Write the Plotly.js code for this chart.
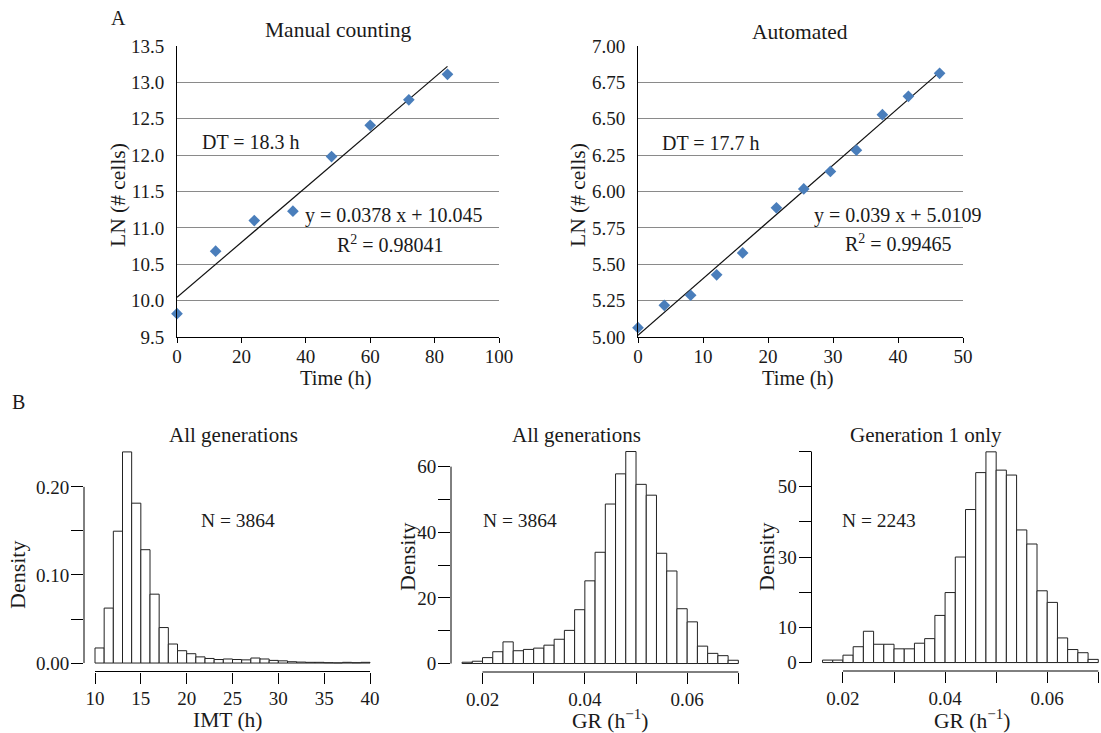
<!DOCTYPE html>
<html>
<head>
<meta charset="utf-8">
<script src="https://cdn.plot.ly/plotly-3.0.1.min.js"></script>
<style>
  html, body { margin: 0; padding: 0; background: #fff; }
  #fig { width: 1101px; height: 733px; }
</style>
</head>
<body>
<div id="fig"></div>
<script>
// ---- Panel A: growth curves (log of cell number over time) ----
const manualTime = [0, 12, 24, 36, 48, 60, 72, 84];
const manualLn = [9.82, 10.68, 11.10, 11.23, 11.98, 12.41, 12.76, 13.11];
const manualSlope = 0.0378;
const manualIntercept = 10.045;
const manualR2 = '0.98041';
const manualDT = '18.3';

const autoTime = [0, 4.05, 8.1, 12.1, 16.1, 21.3, 25.5, 29.6, 33.6, 37.6, 41.6, 46.4];
const autoLn = [5.064, 5.218, 5.287, 5.427, 5.578, 5.888, 6.018, 6.138, 6.284, 6.528, 6.654, 6.812];
const autoSlope = 0.039;
const autoIntercept = 5.0109;
const autoR2 = '0.99465';
const autoDT = '17.7';

// ---- Panel B: histograms (density per bin) ----
const imtBinStart = [10, 11, 12, 13, 14, 15, 16, 17, 18, 19, 20, 21, 22, 23, 24,
                     25, 26, 27, 28, 29, 30, 31, 32, 33, 34, 35, 36, 37, 38, 39];
const imtBinWidth = 1;
const imtDensity = [0.0171, 0.0624, 0.1497, 0.2397, 0.1815, 0.1287, 0.0782, 0.0403,
                    0.0216, 0.0140, 0.0106, 0.0070, 0.0052, 0.0040, 0.0046, 0.0040,
                    0.0036, 0.0057, 0.0046, 0.0030, 0.0025, 0.0015, 0.0011, 0.0008,
                    0.0008, 0.0004, 0.0002, 0.0008, 0.0004, 0.0008];
const imtN = 3864;

const grBinStart = [0.016, 0.018, 0.020, 0.022, 0.024, 0.026, 0.028, 0.030, 0.032,
                    0.034, 0.036, 0.038, 0.040, 0.042, 0.044, 0.046, 0.048, 0.050,
                    0.052, 0.054, 0.056, 0.058, 0.060, 0.062, 0.064, 0.066, 0.068];
const grBinWidth = 0.002;
const grAllDensity = [0.4, 0.7, 1.8, 3.6, 6.6, 3.9, 4.3, 4.7, 5.6, 7.4, 10.1, 16.4, 25.2,
                      33.9, 48.6, 57.8, 64.6, 54.6, 51.3, 33.6, 28.2, 16.7, 12.7, 5.3,
                      3.1, 2.4, 1.0];
const grAllN = 3864;
const grGen1Density = [0.7, 0.7, 2.1, 4.5, 8.9, 5.2, 5.2, 3.9, 3.9, 5.5, 6.8, 13.4, 19.9,
                       30.0, 43.5, 54.0, 59.9, 54.7, 53.3, 37.7, 33.7, 20.4, 17.1, 7.0,
                       3.7, 2.8, 0.9];
const grGen1N = 2243;

// tick sets for the histogram axes (labelled ticks and unlabelled in-between ticks)
const imtXTicks = [10, 15, 20, 25, 30, 35, 40];
const imtYTicks = [0, 0.10, 0.20];
const imtYMinor = [0.05, 0.15];
const grXTicks = [0.02, 0.04, 0.06];
const grXMinor = [0.03, 0.05, 0.07];
const grAllYTicks = [0, 20, 40, 60];
const grAllYMinor = [10, 30, 50];
const grGen1YTicks = [0, 10, 30, 50];
const grGen1YMinor = [20, 40, 60];

// ---- styling ----
const FONT = '"Liberation Serif", "Times New Roman", Times, serif';
const INK = '#1a1a1a';
const W = 1101, H = 733;
const fx = p => p / W;
const fy = p => 1 - p / H;

function fitLine(times, slope, intercept) {
  const x0 = Math.min(...times), x1 = Math.max(...times);
  return { x: [x0, x1], y: [slope * x0 + intercept, slope * x1 + intercept] };
}

const manualFit = fitLine(manualTime, manualSlope, manualIntercept);
const autoFit = fitLine(autoTime, autoSlope, autoIntercept);

const diamond = { symbol: 'diamond', size: 9, color: '#4a7ebb' };
const barStyle = { color: '#ffffff', line: { color: '#222', width: 1 } };

const traces = [
  { type: 'scatter', mode: 'lines', x: manualFit.x, y: manualFit.y, xaxis: 'x', yaxis: 'y',
    line: { color: '#111', width: 1.2 }, hoverinfo: 'skip' },
  { type: 'scatter', mode: 'markers', x: manualTime, y: manualLn, xaxis: 'x', yaxis: 'y',
    marker: diamond, cliponaxis: false },
  { type: 'scatter', mode: 'lines', x: autoFit.x, y: autoFit.y, xaxis: 'x2', yaxis: 'y2',
    line: { color: '#111', width: 1.2 }, hoverinfo: 'skip' },
  { type: 'scatter', mode: 'markers', x: autoTime, y: autoLn, xaxis: 'x2', yaxis: 'y2',
    marker: diamond, cliponaxis: false },
  { type: 'bar', x: imtBinStart, y: imtDensity, width: imtBinWidth, offset: 0,
    xaxis: 'x3', yaxis: 'y3', marker: barStyle },
  { type: 'bar', x: grBinStart, y: grAllDensity, width: grBinWidth, offset: 0,
    xaxis: 'x4', yaxis: 'y4', marker: barStyle },
  { type: 'bar', x: grBinStart, y: grGen1Density, width: grBinWidth, offset: 0,
    xaxis: 'x5', yaxis: 'y5', marker: barStyle }
];

const tickFontTop = { family: FONT, size: 19, color: INK };
const tickFontBot = { family: FONT, size: 19, color: INK };

function topX(domain, range, dtick, anchor) {
  return { domain, range, anchor, dtick, tick0: 0, ticks: 'outside', ticklen: 5,
    tickcolor: '#000', showline: true, linecolor: '#000', linewidth: 1,
    showgrid: false, zeroline: false, tickfont: tickFontTop, ticklabelstandoff: -3,
    fixedrange: true };
}
function topY(domain, range, dtick, fmt, anchor) {
  return { domain, range, anchor, dtick, tick0: range[0], tickformat: fmt, ticks: '',
    showline: true, linecolor: '#000', linewidth: 1, showgrid: true,
    gridcolor: '#8a8a8a', gridwidth: 1, zeroline: false, tickfont: tickFontTop,
    ticklabelstandoff: 8, fixedrange: true };
}
function botX(domain, range, tickvals, minorvals, fmt, anchor) {
  return { domain, range, anchor, tickmode: 'array', tickvals, tickformat: fmt,
    ticks: 'outside', ticklen: 11, tickcolor: '#000', tickwidth: 1,
    minor: { tickmode: 'array', tickvals: minorvals, ticks: 'outside', ticklen: 11,
             tickcolor: '#000', tickwidth: 1, showgrid: false },
    showline: false, showgrid: false, zeroline: false, tickfont: tickFontBot,
    ticklabelstandoff: -1, fixedrange: true };
}
function botY(domain, range, tickvals, minorvals, fmt, anchor) {
  return { domain, range, anchor, tickmode: 'array', tickvals, tickformat: fmt,
    ticks: 'outside', ticklen: 12, tickcolor: '#000', tickwidth: 1,
    minor: { tickmode: 'array', tickvals: minorvals, ticks: 'outside', ticklen: 12,
             tickcolor: '#000', tickwidth: 1, showgrid: false },
    showline: false, showgrid: false, zeroline: false, tickfont: tickFontBot,
    ticklabelstandoff: -2, fixedrange: true };
}

// R-style axis lines that only span the tick range
function rAxisLines(xa, ya, xt, yt) {
  const st = { color: '#000', width: 1 };
  const xs = xt.slice().sort((a, b) => a - b);
  const ys = yt.slice().sort((a, b) => a - b);
  return [
    { type: 'line', xref: xa + ' domain', x0: 0, x1: 0, yref: ya,
      y0: ys[0], y1: ys[ys.length - 1], line: st },
    { type: 'line', yref: ya + ' domain', y0: 0, y1: 0, xref: xa,
      x0: xs[0], x1: xs[xs.length - 1], line: st }
  ];
}

function txt(text, x, y, size, opts) {
  return Object.assign({ text, x: fx(x), y: fy(y), xref: 'paper', yref: 'paper',
    showarrow: false, xanchor: 'center', yanchor: 'middle',
    font: { family: FONT, size: size, color: INK } }, opts || {});
}

const annotations = [
  txt('A', 118, 18, 20),
  txt('B', 18, 402, 20),
  // panel A
  txt('Manual counting', 338, 30, 21.5),
  txt('Automated', 800, 32, 21.5),
  txt('Time (h)', 336, 378, 20.5),
  txt('Time (h)', 798, 378, 20.5),
  txt('LN (# cells)', 118, 195, 21.5, { textangle: -90 }),
  txt('LN (# cells)', 578, 195, 21.5, { textangle: -90 }),
  txt('DT = ' + manualDT + ' h', 200, 142, 20, { xanchor: 'left' }),
  txt('y = ' + manualSlope + ' x + ' + manualIntercept.toFixed(3), 303, 216, 20, { xanchor: 'left' }),
  txt('R<sup>2</sup> = ' + manualR2, 335, 244, 20, { xanchor: 'left' }),
  txt('DT = ' + autoDT + ' h', 660, 143, 20, { xanchor: 'left' }),
  txt('y = ' + autoSlope + ' x + ' + autoIntercept, 812, 215, 20, { xanchor: 'left' }),
  txt('R<sup>2</sup> = ' + autoR2, 843, 243, 20, { xanchor: 'left' }),
  // panel B
  txt('All generations', 233, 435, 21),
  txt('All generations', 576, 435, 21),
  txt('Generation 1 only', 926, 435, 21),
  txt('N = ' + imtN, 199, 520, 19.5, { xanchor: 'left' }),
  txt('N = ' + grAllN, 481, 520, 19.5, { xanchor: 'left' }),
  txt('N = ' + grGen1N, 840, 520, 19.5, { xanchor: 'left' }),
  txt('IMT (h)', 227, 720, 21.5),
  txt('GR (h<sup>\u22121</sup>)', 610, 719, 21.5),
  txt('GR (h<sup>\u22121</sup>)', 972, 719, 21.5),
  txt('Density', 17, 575, 22, { textangle: -90 }),
  txt('Density', 407, 557, 22, { textangle: -90 }),
  txt('Density', 766, 557, 22, { textangle: -90 })
];

const layout = {
  width: W, height: H,
  margin: { l: 0, r: 0, t: 0, b: 0 },
  paper_bgcolor: '#fff', plot_bgcolor: 'rgba(0,0,0,0)',
  showlegend: false, bargap: 0,
  font: { family: FONT, color: INK },
  xaxis: topX([fx(177), fx(499)], [0, 100], 20, 'y'),
  yaxis: topY([fy(337), fy(46)], [9.5, 13.5], 0.5, '.1f', 'x'),
  xaxis2: topX([fx(638), fx(963)], [0, 50], 10, 'y2'),
  yaxis2: topY([fy(337), fy(46)], [5, 7], 0.25, '.2f', 'x2'),
  xaxis3: botX([fx(84), fx(381)], [8.8, 41.2], imtXTicks, imtXTicks, 'd', 'y3'),
  yaxis3: botY([fy(671.5), fy(443.2)], [-0.0096, 0.2496], imtYTicks, imtYMinor, '.2f', 'x3'),
  xaxis4: botX([fx(451), fx(749.4)], [0.01384, 0.07216], grXTicks, grXMinor, '.2f', 'y4'),
  yaxis4: botY([fy(672), fy(443)], [-2.58, 67.2], grAllYTicks, grAllYMinor, 'd', 'x4'),
  xaxis5: botX([fx(811.5), 1], [0.01384, 0.07053], grXTicks, grXMinor, '.2f', 'y5'),
  yaxis5: botY([fy(671), fy(443.4)], [-2.4, 62.3], grGen1YTicks, grGen1YMinor, 'd', 'x5'),
  shapes: [].concat(
    rAxisLines('x3', 'y3', imtXTicks, imtYTicks.concat(imtYMinor)),
    rAxisLines('x4', 'y4', grXTicks.concat(grXMinor), grAllYTicks.concat(grAllYMinor)),
    rAxisLines('x5', 'y5', grXTicks.concat(grXMinor), grGen1YTicks.concat(grGen1YMinor))
  ),
  annotations
};

Plotly.newPlot('fig', traces, layout, { displayModeBar: false, staticPlot: true });
</script>
</body>
</html>
